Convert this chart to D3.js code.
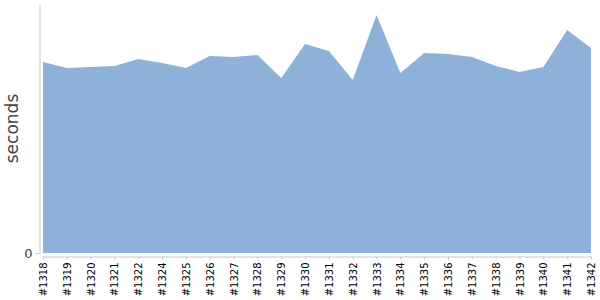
<!DOCTYPE html>
<html>
<head>
<meta charset="utf-8">
<script src="https://cdn.jsdelivr.net/npm/d3@7"></script>
<style>
  body { margin: 0; background: #fff; }
  svg { display: block; }
  svg text { font-family: "DejaVu Sans", Verdana, sans-serif; }
</style>
</head>
<body>
<svg width="600" height="300"></svg>
<script>
// build labels and durations
const builds = ["#1318", "#1319", "#1320", "#1321", "#1322", "#1324", "#1325", "#1326",
  "#1327", "#1328", "#1329", "#1330", "#1331", "#1332", "#1333", "#1334", "#1335",
  "#1336", "#1337", "#1338", "#1339", "#1340", "#1341", "#1342"];
const seconds = [191, 185, 186, 187, 194, 190, 185, 197, 196, 198, 175, 209, 202, 173,
  238, 180, 200, 199, 196, 187, 181, 186, 223, 205];
const yTicks = [0];

const svg = d3.select("svg");
let margin = { top: 4, left: 43, right: 9, bottom: 47 };
let width = 600, height = 300;

let xScale = d3.scalePoint()
  .domain(builds)
  .range([margin.left, width - margin.right]);
let yScale = d3.scaleLinear()
  .domain([0, 249])
  .range([height - margin.bottom, margin.top]);

let data = builds.map((b, i) => ({ build: b, value: seconds[i] }));

let area = d3.area()
  .x(d => xScale(d.build))
  .y0(yScale(0))
  .y1(d => yScale(d.value));

svg.append("path")
  .datum(data)
  .attr("fill", "#8eb1da")
  .attr("d", area);

// y axis
let yAxis = svg.append("g")
  .attr("transform", "translate(39.5,0)")
  .call(d3.axisLeft(yScale).tickValues(yTicks).tickSize(4).tickSizeOuter(0));
yAxis.attr("font-family", null);
yAxis.select(".domain").attr("stroke", "#c8c8c8");
yAxis.selectAll(".tick line").attr("stroke", "#c8c8c8");
yAxis.selectAll(".tick text")
  .attr("fill", "#444")
  .style("font-size", "13px")
  .attr("x", -7);

// x axis
let xAxis = svg.append("g")
  .attr("transform", "translate(0," + (yScale(0) + 3.5) + ")")
  .call(d3.axisBottom(xScale).tickSize(3).tickSizeOuter(0));
xAxis.attr("font-family", null);
xAxis.select(".domain").attr("stroke", "#c8c8c8");
xAxis.selectAll(".tick line").attr("stroke", "#c8c8c8");
xAxis.selectAll(".tick text")
  .attr("fill", "#000")
  .style("font-size", "10px")
  .attr("transform", "rotate(-90)")
  .attr("text-anchor", "end")
  .attr("x", -6)
  .attr("y", 0)
  .attr("dy", "0.35em");

// y label
svg.append("text")
  .attr("transform", "translate(18," + ((yScale(0) + margin.top) / 2) + ") rotate(-90)")
  .attr("text-anchor", "middle")
  .attr("fill", "#444")
  .style("font-size", "17px")
  .text("seconds");
</script>
</body>
</html>
